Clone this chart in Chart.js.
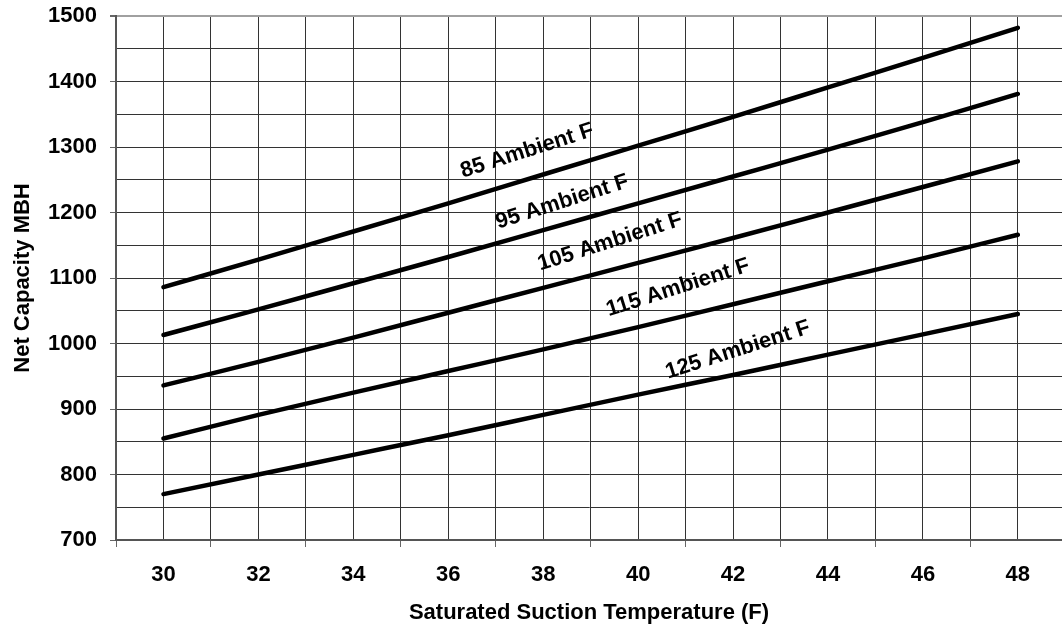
<!DOCTYPE html>
<html>
<head>
<meta charset="utf-8">
<script src="https://cdn.jsdelivr.net/npm/chart.js@4.4.1/dist/chart.umd.min.js"></script>
<style>
    html, body { margin: 0; padding: 0; background: #fff; }
    #wrap { width: 1062px; height: 629px; }
</style>
</head>
<body>
<div id="wrap"><canvas id="chart"></canvas></div>
<script>
const temps = [30, 32, 34, 36, 38, 40, 42, 44, 46, 48];

const amb85 = [1086, 1128, 1171, 1214, 1258, 1302, 1346, 1391, 1436, 1482];
const amb95 = [1013, 1052, 1092, 1132, 1173, 1214, 1255, 1296, 1338, 1381];
const amb105 = [936, 972, 1009, 1047, 1085, 1123, 1161, 1200, 1239, 1278];
const amb115 = [855, 891, 925, 958, 991, 1025, 1060, 1095, 1130, 1166];
const amb125 = [770, 800, 830, 860, 891, 922, 952, 983, 1014, 1045];

const seriesNames = ['85 Ambient F', '95 Ambient F', '105 Ambient F', '115 Ambient F', '125 Ambient F'];
const seriesValues = [amb85, amb95, amb105, amb115, amb125];

// where each curve label sits, in axis units (temp, MBH)
const labelTemps = [37.66, 38.40, 39.41, 40.84, 42.10];
const labelMBH = [1294, 1216, 1155, 1085, 990];

const FONT = "'Liberation Sans', Arial, sans-serif";

function toPoints(values) {
    return temps.map((t, i) => ({x: t, y: values[i]}));
}

const curveLabels = {
    id: 'curveLabels',
    afterDatasetsDraw(chart) {
        const ctx = chart.ctx;
        const xs = chart.scales.x;
        const ys = chart.scales.y;
        ctx.save();
        ctx.font = 'bold 22px ' + FONT;
        ctx.fillStyle = '#000';
        ctx.textAlign = 'center';
        ctx.textBaseline = 'middle';
        seriesNames.forEach((name, i) => {
            ctx.save();
            ctx.translate(xs.getPixelForValue(labelTemps[i]), ys.getPixelForValue(labelMBH[i]));
            ctx.rotate(-17.7 * Math.PI / 180);
            ctx.fillText(name, 0, 0);
            ctx.restore();
        });
        ctx.restore();
    }
};

new Chart(document.getElementById('chart').getContext('2d'), {
    type: 'line',
    data: {
        datasets: seriesValues.map((values, i) => ({
            label: seriesNames[i],
            data: toPoints(values),
            borderColor: '#000',
            borderWidth: 4.5,
            borderCapStyle: 'round',
            pointRadius: 0,
            cubicInterpolationMode: 'monotone',
            fill: false
        }))
    },
    options: {
        responsive: true,
        maintainAspectRatio: false,
        animation: false,
        layout: {padding: {top: 16, left: 0, right: 0, bottom: 0}},
        plugins: {
            legend: {display: false},
            tooltip: {enabled: false}
        },
        scales: {
            x: {
                type: 'linear',
                min: 29,
                max: 48.93,
                afterFit: scale => {
                    scale.height = 89;
                    scale.paddingLeft = 0;
                    scale.paddingRight = 0;
                },
                ticks: {
                    stepSize: 1,
                    includeBounds: false,
                    autoSkip: false,
                    maxRotation: 0,
                    padding: 15,
                    color: '#000',
                    font: {family: FONT, size: 22, weight: 'bold'},
                    callback: v => (v % 2 === 0 ? v : '')
                },
                grid: {
                    color: '#333',
                    tickLength: 7,
                    tickColor: c => (c.tick && c.tick.value % 2 !== 0 ? '#666' : 'rgba(0,0,0,0)')
                },
                border: {color: '#555', width: 2},
                title: {
                    display: true,
                    text: 'Saturated Suction Temperature (F)',
                    color: '#000',
                    font: {family: FONT, size: 22, weight: 'bold'},
                    padding: {top: 0, bottom: 3}
                }
            },
            y: {
                min: 700,
                max: 1500,
                afterFit: scale => {
                    scale.width = 116;
                    scale.paddingTop = 0;
                    scale.paddingBottom = 0;
                },
                ticks: {
                    stepSize: 50,
                    autoSkip: false,
                    padding: 13,
                    color: '#000',
                    font: {family: FONT, size: 22, weight: 'bold'},
                    callback: v => (v % 100 === 0 ? v : '')
                },
                grid: {
                    color: c => (c.tick && c.tick.value === 1500 ? '#a0a0a0' : '#333'),
                    lineWidth: c => (c.tick && c.tick.value === 1500 ? 2 : 1),
                    tickLength: 6,
                    tickColor: c => (c.tick && c.tick.value % 100 === 0 ? '#666' : 'rgba(0,0,0,0)')
                },
                border: {color: '#555', width: 2},
                title: {
                    display: true,
                    text: 'Net Capacity MBH',
                    color: '#000',
                    font: {family: FONT, size: 22, weight: 'bold'},
                    padding: {top: 10, bottom: 0}
                }
            }
        }
    },
    plugins: [curveLabels]
});
</script>
</body>
</html>
